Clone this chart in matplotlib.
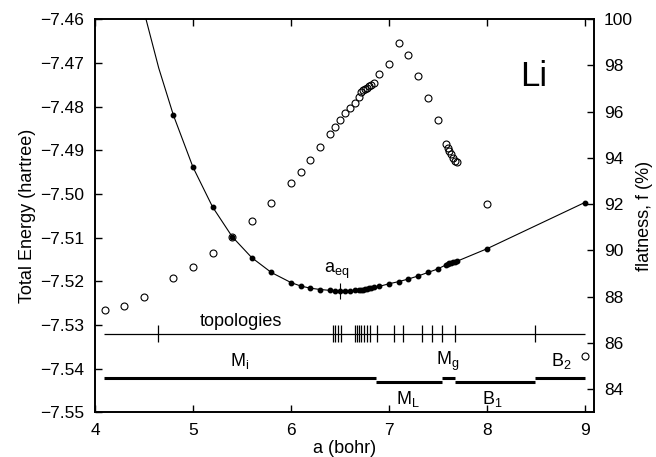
import matplotlib
matplotlib.use("Agg")
import matplotlib.pyplot as plt
from matplotlib.ticker import FixedLocator

plt.rcParams['font.family'] = ['Liberation Sans', 'DejaVu Sans']
plt.rcParams['mathtext.fontset'] = 'custom'
plt.rcParams['mathtext.rm'] = 'Liberation Sans'
plt.rcParams['mathtext.it'] = 'Liberation Sans'

# total energy (filled dots)
dot_a = [4.8, 5.0, 5.2, 5.4, 5.6, 5.8, 6.0, 6.1, 6.2, 6.3, 6.4, 6.45, 6.5, 6.55,
         6.6, 6.65, 6.7, 6.72, 6.74, 6.76, 6.78, 6.8, 6.82, 6.85, 6.9, 7.0, 7.1,
         7.2, 7.3, 7.4, 7.5, 7.58, 7.6, 7.62, 7.64, 7.66, 7.68, 7.7, 8.0, 9.0]
dot_e = [-7.4820, -7.4939, -7.5030, -7.5098, -7.5146, -7.5180, -7.5203, -7.5211,
         -7.5216, -7.5219, -7.5221, -7.5222, -7.5222, -7.5222, -7.5222, -7.5221,
         -7.5220, -7.5219, -7.5219, -7.5218, -7.5217, -7.5216, -7.5215, -7.5214,
         -7.5212, -7.5206, -7.5201, -7.5195, -7.5188, -7.5180, -7.5172, -7.5163,
         -7.5161, -7.5159, -7.5158, -7.5156, -7.5155, -7.5154, -7.5126, -7.5020]

# fitted curve continues above the plot on the left
fit_a = [4.5, 4.65] + dot_a
fit_e = [-7.4583, -7.4712] + dot_e

# flatness (open circles)
flat_a = [4.1, 4.3, 4.5] + dot_a
flat_f = [87.42, 87.59, 88.0, 88.79, 89.3, 89.9, 90.58, 91.26, 92.06, 92.93,
          93.41, 93.93, 94.46, 95.03, 95.34, 95.66, 95.94, 96.16, 96.39, 96.64,
          96.85, 96.92, 96.98, 97.04, 97.1, 97.17, 97.24, 97.63, 98.06, 98.95,
          98.45, 97.55, 96.58, 95.63, 94.62, 94.45, 94.3, 94.15, 94.0, 93.88,
          93.82, 92.02, 85.45]

# topology changes
topo_a = [4.64, 6.43, 6.45, 6.48, 6.51, 6.66, 6.68, 6.70, 6.72, 6.75, 6.78,
          6.81, 6.88, 7.05, 7.15, 7.34, 7.44, 7.54, 7.68, 8.49]
topo_e = -7.532

# phase segments: (start, end, level, label, label x, label y)
phases = [
    (4.09, 6.87, -7.5421, r'$\mathregular{M_i}$', 5.48, -7.5383),
    (6.87, 7.54, -7.5430, r'$\mathregular{M_L}$', 7.2, -7.5470),
    (7.54, 7.68, -7.5421, r'$\mathregular{M_g}$', 7.6, -7.5383),
    (7.68, 8.49, -7.5430, r'$\mathregular{B_1}$', 8.06, -7.5470),
    (8.49, 9.0, -7.5421, r'$\mathregular{B_2}$', 8.76, -7.5383),
]

a_eq = 6.5

left_ticks = [-7.55, -7.54, -7.53, -7.52, -7.51, -7.50, -7.49, -7.48, -7.47, -7.46]
right_ticks = [84, 86, 88, 90, 92, 94, 96, 98, 100]
x_ticks = [4, 5, 6, 7, 8, 9]

fig = plt.figure(figsize=(6.56, 4.57), dpi=100)
ax = fig.add_axes([0.145, 0.098, 0.761, 0.860])
ax2 = ax.twinx()

ax.plot(fit_a, fit_e, color='black', lw=0.8, zorder=3)
ax.plot(dot_a, dot_e, 'o', color='black', ms=3.2, zorder=4)
ax2.plot(flat_a, flat_f, 'o', mfc='none', mec='black', ms=5, mew=0.8)

ax.hlines(topo_e, 4.09, 9.0, color='black', lw=0.9)
ax.vlines(topo_a, topo_e - 0.0019, topo_e + 0.0019, color='black', lw=0.9)
ax.text(5.49, -7.5293, 'topologies', fontsize=13, ha='center', va='center')

for start, end, level, label, lx, ly in phases:
    ax.hlines(level, start, end, color='black', lw=2.2)
    ax.text(lx, ly, label, fontsize=13, ha='center', va='center')

ax.vlines(a_eq, -7.5241, -7.5203, color='black', lw=0.8)
ax.text(6.47, -7.5177, r'$\mathregular{a_{eq}}$', fontsize=13, ha='center', va='center')
ax.text(8.48, -7.4732, 'Li', fontsize=25, ha='center', va='center')

ax.set_xlim(4, 9.1)
ax.set_ylim(-7.55, -7.46)
ax2.set_ylim(83, 100)

ax.xaxis.set_major_locator(FixedLocator(x_ticks))
ax.set_xticklabels([str(t) for t in x_ticks])
ax.yaxis.set_major_locator(FixedLocator(left_ticks))
ax.set_yticklabels([('%.2f' % t).replace('-', '\u2212') for t in left_ticks])
ax2.yaxis.set_major_locator(FixedLocator(right_ticks))
ax2.set_yticklabels([str(t) for t in right_ticks])

ax.tick_params(direction='in', top=True, right=False, length=5, width=1,
               labelsize=12.5, pad=8)
ax2.tick_params(direction='in', length=5, width=1, labelsize=12.5, pad=7)

ax.set_xlabel('a (bohr)', fontsize=13, labelpad=1)
ax.set_ylabel('Total Energy (hartree)', fontsize=13, labelpad=3)
ax2.set_ylabel('flatness, f (%)', fontsize=13, labelpad=2)

for sp in list(ax.spines.values()) + list(ax2.spines.values()):
    sp.set_linewidth(1.2)

fig.savefig('out.png', dpi=100)
